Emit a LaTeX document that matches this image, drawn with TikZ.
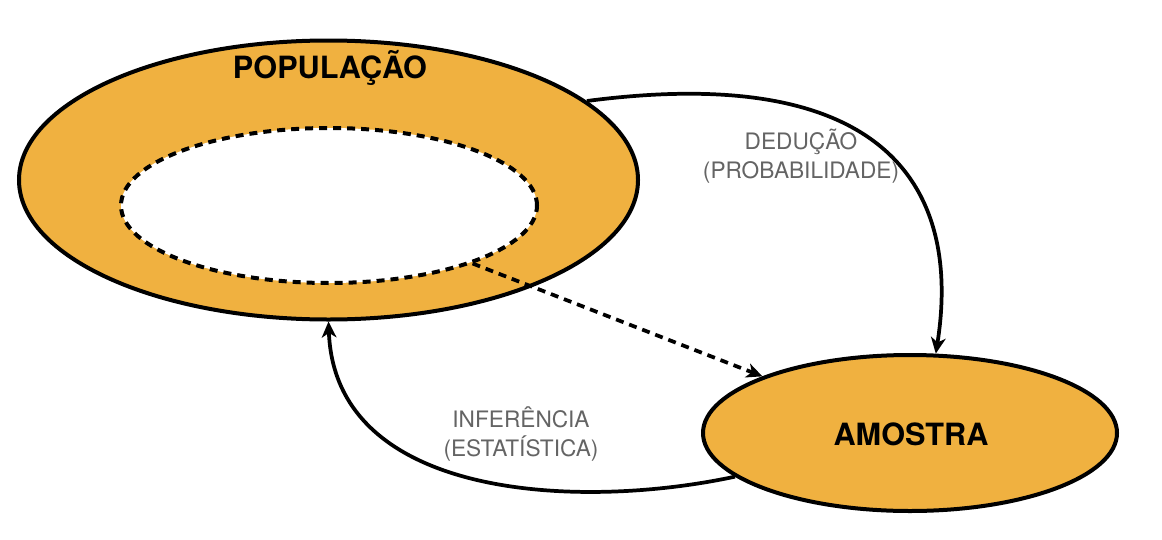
\documentclass[tikz,border=0pt]{standalone}
\usepackage{fontspec}
\setmainfont{TeX Gyre Heros}
\usetikzlibrary{shapes.geometric,arrows.meta}
\definecolor{fillor}{RGB}{240,177,64}
\definecolor{labgray}{RGB}{100,100,100}
\tikzset{
  blob/.style={ellipse, draw=black, line width=3pt, fill=fillor, inner sep=0pt},
  hole/.style={ellipse, draw=black, line width=3pt, fill=white, dash pattern=on 6pt off 4.5pt, inner sep=0pt},
  title/.style={font=\bfseries\fontsize{23}{27}\selectfont, text=black},
  lab/.style={font=\fontsize{17}{21.5}\selectfont, text=labgray, align=center},
  conn/.style={line width=2.8pt, -{Stealth[length=12pt,width=11pt,inset=3.5pt]}},
}
\begin{document}
\begin{tikzpicture}[x=0.75pt,y=-0.75pt]
\useasboundingbox (0,0) rectangle (1162,539);
\node[blob, minimum width=464.25pt, minimum height=209.25pt] (pop) at (328.5,180) {};
\node[hole, minimum width=312pt, minimum height=116.25pt] (inner) at (329,205.5) {};
\node[blob, minimum width=310.5pt, minimum height=117pt] (amo) at (910,433) {};
\node[title] (popt) at (330,68) {POPULAÇÃO};
\node[title] (amot) at (911,434.5) {AMOSTRA};
\node[lab] (ded) at (801,156) {DEDUÇÃO\\(PROBABILIDADE)};
\node[lab] (inf) at (521,434) {INFERÊNCIA\\(ESTATÍSTICA)};
\draw[conn] (pop.17) .. controls (900,60) and (960,200) .. (amo.72.2);
\draw[conn] (amo.194.4) .. controls (580,510) and (335,500) .. (pop.270.5);
\draw[conn, dash pattern=on 6pt off 4.5pt] (inner.338.2) -- (amo.159.2);
\end{tikzpicture}
\end{document}
